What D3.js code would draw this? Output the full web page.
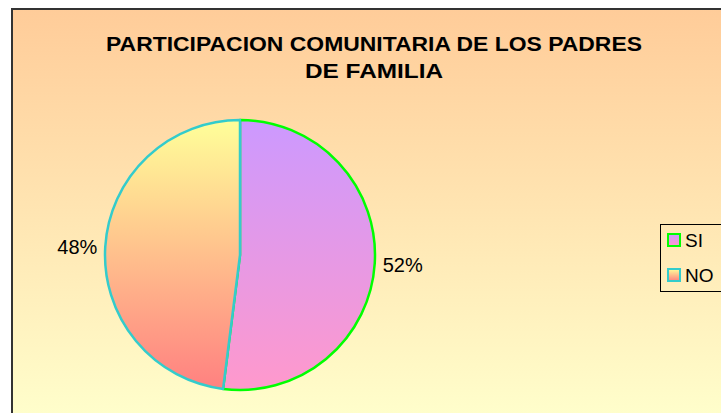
<!DOCTYPE html>
<html>
<head>
<meta charset="utf-8">
<script src="https://cdn.jsdelivr.net/npm/d3@7"></script>
<style>
  html, body { margin: 0; padding: 0; background: #ffffff; }
  svg { display: block; }
</style>
</head>
<body>
<svg id="chart" width="721" height="413"></svg>
<script>
// Chart data
const titleLines = ["PARTICIPACION COMUNITARIA DE LOS PADRES", "DE FAMILIA"];
const categories = ["SI", "NO"];
const values = [52, 48];
const gradTop = ["#CC99FF", "#FFFF99"];
const gradBottom = ["#FF99CC", "#FF8080"];
const strokeColors = ["#00FF00", "#33CCCC"];

const svg = d3.select("#chart");
const W = 721, H = 413;
const defs = svg.append("defs");

// background gradient of the chart area
const bg = defs.append("linearGradient").attr("id", "bgGrad")
  .attr("x1", 0).attr("y1", 0).attr("x2", 0).attr("y2", 1);
bg.append("stop").attr("offset", "0%").attr("stop-color", "#FFCC99");
bg.append("stop").attr("offset", "100%").attr("stop-color", "#FFFFCC");

// legend swatch gradients
categories.forEach((c, i) => {
  const g = defs.append("linearGradient").attr("id", "slice" + i)
    .attr("x1", 0).attr("y1", 0).attr("x2", 0).attr("y2", 1);
  g.append("stop").attr("offset", "0%").attr("stop-color", gradTop[i]);
  g.append("stop").attr("offset", "100%").attr("stop-color", gradBottom[i]);
});

// pie slice gradients span the whole pie, in the pie group's user space
const cx = 240, cy = 255, r = 135;
categories.forEach((c, i) => {
  const g = defs.append("linearGradient").attr("id", "pieGrad" + i)
    .attr("gradientUnits", "userSpaceOnUse")
    .attr("x1", 0).attr("y1", -r).attr("x2", 0).attr("y2", r);
  g.append("stop").attr("offset", "0%").attr("stop-color", gradTop[i]);
  g.append("stop").attr("offset", "100%").attr("stop-color", gradBottom[i]);
});

// chart frame (extends past the right and bottom edges)
svg.append("rect")
  .attr("x", 12).attr("y", 9)
  .attr("width", W).attr("height", H)
  .attr("fill", "url(#bgGrad)")
  .attr("stroke", "#333333").attr("stroke-width", 2);

// title
const title = svg.append("text")
  .attr("text-anchor", "middle")
  .attr("font-family", "Liberation Sans, Arial, sans-serif")
  .attr("font-weight", "bold")
  .attr("font-size", 21)
  .attr("fill", "#000");
title.append("tspan").attr("x", 374).attr("y", 51)
  .attr("textLength", 536).attr("lengthAdjust", "spacingAndGlyphs")
  .text(titleLines[0]);
title.append("tspan").attr("x", 374).attr("y", 78)
  .attr("textLength", 138).attr("lengthAdjust", "spacingAndGlyphs")
  .text(titleLines[1]);

// pie
const pie = d3.pie().sort(null).value(d => d);
const arc = d3.arc().innerRadius(0).outerRadius(r);
const arcs = pie(values);

const pg = svg.append("g").attr("transform", `translate(${cx},${cy})`);
pg.selectAll("path")
  .data(arcs)
  .join("path")
  .attr("d", arc)
  .attr("fill", (d, i) => `url(#pieGrad${i})`)
  .attr("stroke", (d, i) => strokeColors[i])
  .attr("stroke-width", 2.5)
  .attr("stroke-linejoin", "round");

// percentage labels just outside the pie
const total = d3.sum(values);
const labelArc = d3.arc().innerRadius(r + 8).outerRadius(r + 8);
svg.append("g").attr("transform", `translate(${cx},${cy})`)
  .selectAll("text")
  .data(arcs)
  .join("text")
  .attr("x", d => labelArc.centroid(d)[0])
  .attr("y", d => labelArc.centroid(d)[1] + 8)
  .attr("text-anchor", d => (d.startAngle + d.endAngle) / 2 < Math.PI ? "start" : "end")
  .attr("font-family", "Liberation Sans, Arial, sans-serif")
  .attr("font-size", 20)
  .attr("fill", "#000")
  .text(d => Math.round(d.data / total * 100) + "%");

// legend
const lg = svg.append("g");
lg.append("rect")
  .attr("x", 660.5).attr("y", 224.5)
  .attr("width", 80).attr("height", 67)
  .attr("fill", "none")
  .attr("stroke", "#000").attr("stroke-width", 1);
const items = lg.selectAll("g.item")
  .data(categories)
  .join("g")
  .attr("class", "item")
  .attr("transform", (d, i) => `translate(668,${234 + i * 35})`);
items.append("rect")
  .attr("x", 0).attr("y", 0)
  .attr("width", 12).attr("height", 12)
  .attr("fill", (d, i) => `url(#slice${i})`)
  .attr("stroke", (d, i) => strokeColors[i])
  .attr("stroke-width", 2);
items.append("text")
  .attr("x", 17).attr("y", 13)
  .attr("font-family", "Liberation Sans, Arial, sans-serif")
  .attr("font-size", 19)
  .attr("fill", "#000")
  .text(d => d);
</script>
</body>
</html>
